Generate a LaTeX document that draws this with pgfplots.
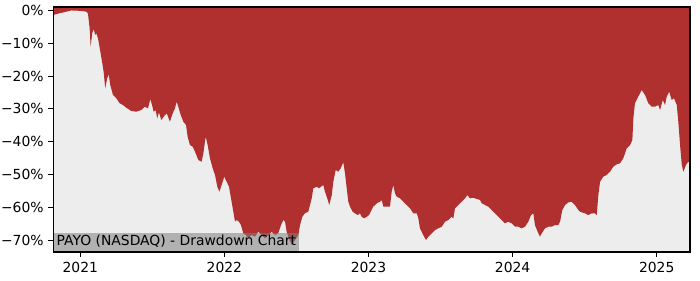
\documentclass[border=0pt]{standalone}
\usepackage{fontspec}
\setmainfont{DejaVu Sans}
\usepackage{pgfplots}
\pgfplotsset{compat=1.18}
\definecolor{ddred}{RGB}{176,48,48}
\definecolor{bgcol}{RGB}{237,237,237}
\begin{document}
\begin{tikzpicture}
\path[use as bounding box] (-38.4pt,-20.2pt) rectangle (465.6pt,181.4pt);
\begin{axis}[
  at={(0,0)}, anchor=south west,
  width=458.4pt, height=176.4pt, scale only axis,
  xmin=2020.813, xmax=2025.231, ymin=-73.6, ymax=1.07,
  axis background/.style={fill=bgcol},
  axis on top,
  axis line style={line width=0.8pt},
  tick style={line width=0.8pt, black},
  major tick length=3.5pt, tick align=outside,
  xtick pos=left, ytick pos=left,
  xtick={2021,2022,2023,2024,2025},
  xticklabels={2021,2022,2023,2024,2025},
  ytick={-70,-60,-50,-40,-30,-20,-10,0},
  yticklabels={−70\%,−60\%,−50\%,−40\%,−30\%,−20\%,−10\%,0\%},
  ticklabel style={font=\fontsize{10}{12}\selectfont},
]
\addplot[fill=ddred, draw=none] coordinates {
(2020.80,5) (2020.80,-1.37)
(2020.811,-1.37) (2020.857,-0.85) (2020.903,-0.37) (2020.938,0) (2020.972,-0.06)
(2021.007,-0.15) (2021.042,-0.37) (2021.053,-0.85) (2021.065,-5.43) (2021.072,-11.04)
(2021.083,-6.95) (2021.093,-5.64) (2021.104,-7.47) (2021.111,-6.95) (2021.123,-8.48)
(2021.135,-11.52) (2021.153,-16.10) (2021.162,-18.66) (2021.173,-23.72) (2021.187,-20.67)
(2021.197,-19.45) (2021.208,-22.71) (2021.227,-25.76) (2021.250,-26.77) (2021.273,-28.29)
(2021.296,-28.81) (2021.319,-29.63) (2021.354,-30.64) (2021.389,-30.85) (2021.423,-30.34)
(2021.447,-29.33) (2021.470,-29.82) (2021.486,-26.98) (2021.498,-28.81) (2021.509,-30.85)
(2021.523,-30.34) (2021.534,-32.87) (2021.546,-31.04) (2021.562,-33.38) (2021.588,-31.86)
(2021.600,-31.34) (2021.622,-33.90) (2021.641,-31.34) (2021.657,-29.82) (2021.669,-27.80)
(2021.680,-29.33) (2021.697,-31.86) (2021.715,-33.90) (2021.734,-34.91) (2021.745,-38.48)
(2021.761,-41.01) (2021.780,-41.52) (2021.796,-43.05) (2021.819,-45.58) (2021.842,-46.10)
(2021.854,-43.54) (2021.870,-38.48) (2021.884,-41.01) (2021.900,-45.06) (2021.919,-48.11)
(2021.935,-50.15) (2021.951,-53.72) (2021.965,-55.24) (2021.981,-53.20) (2021.999,-50.67)
(2022.016,-52.20) (2022.032,-53.72) (2022.046,-57.26) (2022.062,-61.34) (2022.074,-64.39)
(2022.085,-63.87) (2022.101,-64.39) (2022.115,-65.40) (2022.131,-67.93) (2022.150,-68.45)
(2022.166,-69.45) (2022.189,-68.45) (2022.212,-68.96) (2022.235,-67.44) (2022.259,-68.45)
(2022.282,-69.45) (2022.328,-67.44) (2022.351,-68.45) (2022.374,-67.93) (2022.393,-65.40)
(2022.409,-63.87) (2022.421,-64.39) (2022.432,-67.44) (2022.448,-69.45) (2022.467,-71.49)
(2022.490,-69.97) (2022.513,-68.45) (2022.525,-65.40) (2022.541,-62.87) (2022.559,-61.83)
(2022.582,-61.34) (2022.594,-59.30) (2022.606,-57.26) (2022.617,-54.21) (2022.641,-53.72)
(2022.657,-54.21) (2022.670,-53.72) (2022.686,-53.20) (2022.698,-55.24) (2022.714,-57.26)
(2022.728,-59.30) (2022.745,-56.25) (2022.756,-52.20) (2022.772,-48.63) (2022.790,-49.15)
(2022.807,-48.11) (2022.825,-46.28) (2022.837,-49.63) (2022.849,-54.21) (2022.860,-58.29)
(2022.872,-59.82) (2022.890,-61.34) (2022.906,-61.83) (2022.925,-62.35) (2022.941,-61.83)
(2022.953,-62.87) (2022.969,-63.36) (2022.988,-62.87) (2023.004,-62.35) (2023.033,-59.82)
(2023.057,-58.78) (2023.080,-58.29) (2023.092,-57.77) (2023.103,-59.82) (2023.126,-59.82)
(2023.149,-59.82) (2023.161,-55.24) (2023.172,-53.20) (2023.184,-55.73) (2023.196,-56.77)
(2023.219,-57.26) (2023.242,-58.29) (2023.265,-59.30) (2023.288,-60.31) (2023.311,-61.83)
(2023.335,-61.83) (2023.346,-63.36) (2023.357,-66.40) (2023.380,-68.45) (2023.399,-69.97)
(2023.415,-68.96) (2023.439,-67.93) (2023.462,-66.92) (2023.484,-66.40) (2023.508,-65.92)
(2023.531,-64.39) (2023.554,-63.87) (2023.577,-62.87) (2023.589,-63.36) (2023.600,-60.31)
(2023.623,-59.30) (2023.647,-58.29) (2023.670,-57.26) (2023.686,-56.25) (2023.704,-57.26)
(2023.727,-57.07) (2023.739,-57.26) (2023.774,-57.77) (2023.786,-58.78) (2023.809,-59.30)
(2023.831,-59.82) (2023.855,-60.82) (2023.878,-61.83) (2023.901,-62.87) (2023.924,-63.87)
(2023.947,-64.88) (2023.970,-64.39) (2023.994,-64.88) (2024.017,-65.92) (2024.040,-65.92)
(2024.063,-66.40) (2024.086,-65.92) (2024.109,-64.39) (2024.128,-62.35) (2024.144,-61.83)
(2024.155,-65.40) (2024.174,-67.44) (2024.190,-68.96) (2024.202,-67.93) (2024.225,-66.40)
(2024.248,-65.92) (2024.271,-65.92) (2024.294,-65.40) (2024.317,-65.40) (2024.329,-64.39)
(2024.345,-60.82) (2024.364,-59.30) (2024.387,-58.48) (2024.410,-58.29) (2024.433,-59.30)
(2024.456,-60.82) (2024.468,-61.34) (2024.502,-61.83) (2024.525,-62.35) (2024.549,-61.83)
(2024.572,-61.83) (2024.584,-62.35) (2024.595,-56.25) (2024.607,-52.20) (2024.629,-50.67)
(2024.653,-50.15) (2024.676,-49.15) (2024.699,-47.62) (2024.722,-46.89) (2024.745,-46.59)
(2024.768,-45.06) (2024.792,-42.01) (2024.815,-41.01) (2024.831,-39.48) (2024.838,-32.87)
(2024.849,-28.29) (2024.872,-26.28) (2024.896,-24.24) (2024.919,-25.76) (2024.942,-28.29)
(2024.965,-29.33) (2024.988,-29.33) (2025.011,-28.81) (2025.023,-30.34) (2025.042,-27.29)
(2025.058,-28.81) (2025.069,-26.28) (2025.087,-24.76) (2025.104,-27.29) (2025.120,-26.77)
(2025.139,-28.81) (2025.150,-33.90) (2025.162,-41.01) (2025.174,-47.10) (2025.185,-49.15)
(2025.203,-47.10) (2025.219,-46.10) (2025.231,-46.50)
(2025.25,-46.50) (2025.25,5)
};
\node[anchor=south west, fill=gray, fill opacity=0.55, text opacity=1,
  inner xsep=2.2pt, inner ysep=2pt, text height=7.4pt, text depth=2.3pt,
  font=\fontsize{10}{12}\selectfont] at (rel axis cs:0,0) {PAYO (NASDAQ) - Drawdown Chart};
\end{axis}
\end{tikzpicture}
\end{document}
